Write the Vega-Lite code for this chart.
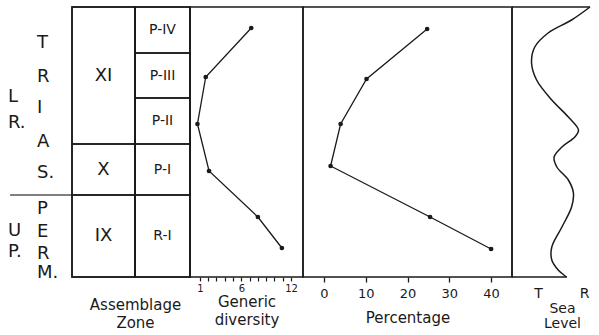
{
  "$schema": "https://vega.github.io/schema/vega-lite/v6.json",
  "padding": {"left": 0, "top": 4, "right": 0, "bottom": 0},
  "spacing": 0,
  "bounds": "flush",
  "config": {
    "font": "DejaVu Sans",
    "view": {"stroke": "#1a1a1a", "strokeWidth": 1.5},
    "axis": {"grid": false, "domainColor": "#1a1a1a", "tickColor": "#1a1a1a", "labelColor": "#1a1a1a", "titleColor": "#1a1a1a", "labelFont": "DejaVu Sans", "titleFont": "DejaVu Sans", "titleFontWeight": "normal"},
    "title": {"font": "DejaVu Sans", "fontWeight": "normal", "color": "#1a1a1a"}
  },
  "hconcat": [
    {
      "width": 72,
      "height": 270,
      "view": {"stroke": null},
      "layer": [
        {
          "data": {"values": [
            {"label": "T", "column": "inner", "level": 234},
            {"label": "R", "column": "inner", "level": 200},
            {"label": "I", "column": "inner", "level": 169},
            {"label": "A", "column": "inner", "level": 135},
            {"label": "S.", "column": "inner", "level": 104},
            {"label": "L", "column": "outer", "level": 180},
            {"label": "R.", "column": "outer", "level": 154},
            {"label": "P", "column": "inner", "level": 68},
            {"label": "E", "column": "inner", "level": 45},
            {"label": "R", "column": "inner", "level": 23},
            {"label": "M.", "column": "inner", "level": 4},
            {"label": "U", "column": "outer", "level": 46},
            {"label": "P.", "column": "outer", "level": 25}
          ]},
          "mark": {"type": "text", "fontSize": 18, "align": "left", "baseline": "middle", "color": "#1a1a1a"},
          "encoding": {
            "x": {"field": "column", "type": "nominal", "scale": {"domain": ["outer", "inner"], "range": [8, 37], "padding": 0}, "axis": null},
            "y": {"field": "level", "type": "quantitative", "scale": {"domain": [0, 270], "nice": false}, "axis": null},
            "text": {"field": "label"}
          }
        },
        {
          "data": {"values": [{"boundary": "Permian/Triassic", "level": 82}]},
          "mark": {"type": "rule", "stroke": "#555", "strokeWidth": 1.5},
          "encoding": {
            "y": {"field": "level", "type": "quantitative", "scale": {"domain": [0, 270], "nice": false}, "axis": null},
            "x": {"datum": 0.14, "type": "quantitative", "scale": {"domain": [0, 1]}, "axis": null},
            "x2": {"datum": 1}
          }
        }
      ],
      "resolve": {"scale": {"x": "independent"}}
    },
    {
      "width": 63,
      "height": 270,
      "title": {"text": ["Assemblage", "Zone"], "orient": "bottom", "fontSize": 15, "lineHeight": 18, "dx": 32, "offset": 20},
      "data": {"values": [
        {"zone": "XI", "top": 270, "bottom": 133},
        {"zone": "X", "top": 133, "bottom": 82},
        {"zone": "IX", "top": 82, "bottom": 0}
      ]},
      "layer": [
        {
          "mark": {"type": "rect", "fill": null, "stroke": "#1a1a1a", "strokeWidth": 1.5},
          "encoding": {
            "y": {"field": "top", "type": "quantitative", "scale": {"domain": [0, 270], "nice": false}, "axis": null},
            "y2": {"field": "bottom"},
            "x": {"value": 0},
            "x2": {"value": "width"}
          }
        },
        {
          "transform": [{"fold": ["top", "bottom"], "as": ["edge", "level"]}],
          "mark": {"type": "text", "fontSize": 18, "color": "#1a1a1a", "baseline": "middle"},
          "encoding": {
            "y": {"aggregate": "mean", "field": "level", "type": "quantitative"},
            "text": {"field": "zone"}
          }
        }
      ]
    },
    {
      "width": 55,
      "height": 270,
      "data": {"values": [
        {"subzone": "P-IV", "top": 270, "bottom": 224},
        {"subzone": "P-III", "top": 224, "bottom": 179},
        {"subzone": "P-II", "top": 179, "bottom": 133},
        {"subzone": "P-I", "top": 133, "bottom": 82},
        {"subzone": "R-I", "top": 82, "bottom": 0}
      ]},
      "layer": [
        {
          "mark": {"type": "rect", "fill": null, "stroke": "#1a1a1a", "strokeWidth": 1.5},
          "encoding": {
            "y": {"field": "top", "type": "quantitative", "scale": {"domain": [0, 270], "nice": false}, "axis": null},
            "y2": {"field": "bottom"},
            "x": {"value": 0},
            "x2": {"value": "width"}
          }
        },
        {
          "transform": [{"fold": ["top", "bottom"], "as": ["edge", "level"]}],
          "mark": {"type": "text", "fontSize": 14, "color": "#1a1a1a", "baseline": "middle"},
          "encoding": {
            "y": {"aggregate": "mean", "field": "level", "type": "quantitative"},
            "text": {"field": "subzone"}
          }
        }
      ]
    },
    {
      "width": 113,
      "height": 270,
      "data": {"values": [
        {"subzone": "P-IV", "diversity": 7.2, "level": 249},
        {"subzone": "P-III", "diversity": 1.7, "level": 200},
        {"subzone": "P-II", "diversity": 0.7, "level": 153},
        {"subzone": "P-I", "diversity": 2.1, "level": 106},
        {"subzone": "R-I", "diversity": 8.0, "level": 60},
        {"subzone": "R-I", "diversity": 10.9, "level": 29}
      ]},
      "encoding": {
        "x": {"field": "diversity", "type": "quantitative", "scale": {"domain": [-0.2, 13.45], "nice": false, "zero": false},
          "axis": {"values": [1, 2, 3, 4, 5, 6, 7, 8, 9, 10, 11, 12], "labelExpr": "datum.value == 1 || datum.value == 6 || datum.value == 12 ? datum.label : ''", "domain": false, "tickSize": 4, "tickWidth": 1.2, "labelFontSize": 10, "labelPadding": 2, "title": ["Generic", "diversity"], "titleFontSize": 15, "titleLineHeight": 18, "titlePadding": 1}},
        "y": {"field": "level", "type": "quantitative", "scale": {"domain": [0, 270], "nice": false}, "axis": null},
        "order": {"field": "level"}
      },
      "layer": [
        {"mark": {"type": "line", "color": "#1a1a1a", "strokeWidth": 1.3}},
        {"mark": {"type": "point", "filled": true, "color": "#1a1a1a", "size": 22, "opacity": 1}}
      ]
    },
    {
      "width": 209,
      "height": 270,
      "data": {"values": [
        {"subzone": "P-IV", "percentage": 24.7, "level": 248},
        {"subzone": "P-III", "percentage": 10.2, "level": 198},
        {"subzone": "P-II", "percentage": 4.0, "level": 153},
        {"subzone": "P-I", "percentage": 1.6, "level": 111},
        {"subzone": "R-I", "percentage": 25.4, "level": 60},
        {"subzone": "R-I", "percentage": 40.0, "level": 28}
      ]},
      "encoding": {
        "x": {"field": "percentage", "type": "quantitative", "scale": {"domain": [-5, 45], "nice": false, "zero": false},
          "axis": {"values": [0, 10, 20, 30, 40], "domain": false, "tickSize": 5, "tickWidth": 1.3, "labelFontSize": 13, "labelPadding": 5, "title": "Percentage", "titleFontSize": 15, "titlePadding": 10}},
        "y": {"field": "level", "type": "quantitative", "scale": {"domain": [0, 270], "nice": false}, "axis": null},
        "order": {"field": "level"}
      },
      "layer": [
        {"mark": {"type": "line", "color": "#1a1a1a", "strokeWidth": 1.3}},
        {"mark": {"type": "point", "filled": true, "color": "#1a1a1a", "size": 22, "opacity": 1}}
      ]
    },
    {
      "width": 87,
      "height": 270,
      "view": {"stroke": null},
      "layer": [
        {
          "data": {"values": [
            {"sea_level": 1.13, "level": 270},
            {"sea_level": 0.73, "level": 257},
            {"sea_level": 0.22, "level": 244},
            {"sea_level": -0.07, "level": 230},
            {"sea_level": -0.14, "level": 214},
            {"sea_level": -0.03, "level": 197},
            {"sea_level": 0.30, "level": 177},
            {"sea_level": 0.66, "level": 160},
            {"sea_level": 0.88, "level": 147},
            {"sea_level": 0.80, "level": 140},
            {"sea_level": 0.52, "level": 130},
            {"sea_level": 0.35, "level": 120},
            {"sea_level": 0.41, "level": 110},
            {"sea_level": 0.66, "level": 97},
            {"sea_level": 0.77, "level": 84},
            {"sea_level": 0.73, "level": 70},
            {"sea_level": 0.52, "level": 50},
            {"sea_level": 0.30, "level": 30},
            {"sea_level": 0.30, "level": 17},
            {"sea_level": 0.44, "level": 7},
            {"sea_level": 0.62, "level": 0}
          ]},
          "mark": {"type": "line", "interpolate": "catmull-rom", "color": "#1a1a1a", "strokeWidth": 1.5},
          "encoding": {
            "x": {"field": "sea_level", "type": "quantitative", "scale": {"domain": [-0.565, 1.326], "nice": false, "zero": false},
              "axis": {"values": [0, 1], "labelExpr": "datum.value == 0 ? 'T' : 'R'", "domain": false, "ticks": false, "labelFontSize": 14, "labelPadding": 9, "title": ["Sea", "Level"], "titleFontSize": 14, "titleLineHeight": 15, "titlePadding": 1, "titleX": 50}},
            "y": {"field": "level", "type": "quantitative", "scale": {"domain": [0, 270], "nice": false}, "axis": null},
            "order": {"field": "level", "sort": "descending"}
          }
        },
        {
          "data": {"values": [
            {"edge": "left", "x0": -0.565, "x1": -0.565, "y0": 0, "y1": 270},
            {"edge": "top", "x0": -0.565, "x1": 1.13, "y0": 270, "y1": 270},
            {"edge": "bottom", "x0": -0.565, "x1": 0.63, "y0": 0, "y1": 0}
          ]},
          "mark": {"type": "rule", "stroke": "#1a1a1a", "strokeWidth": 1.5},
          "encoding": {
            "x": {"field": "x0", "type": "quantitative"},
            "x2": {"field": "x1"},
            "y": {"field": "y0", "type": "quantitative"},
            "y2": {"field": "y1"}
          }
        }
      ]
    }
  ]
}
